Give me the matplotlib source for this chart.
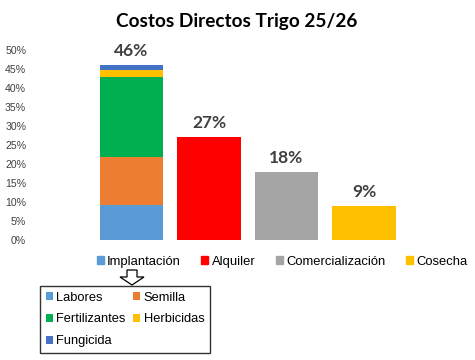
import matplotlib
matplotlib.use("Agg")
import matplotlib.pyplot as plt
import matplotlib.patches as mpatches
from matplotlib.ticker import PercentFormatter

# =========================
# DATA
# =========================
categories = ["Implantación", "Alquiler", "Comercialización", "Cosecha"]
cat_colors = ["#5B9BD5", "#FF0000", "#A5A5A5", "#FFC000"]

impl_items = ["Labores", "Semilla", "Fertilizantes", "Herbicidas", "Fungicida"]
impl_values = [0.090, 0.128, 0.211, 0.019, 0.013]
impl_colors = ["#5B9BD5", "#ED7D31", "#00B050", "#FFC000", "#4472C4"]

other_values = [0.270, 0.178, 0.088]   # Alquiler, Comercialización, Cosecha

y_ticks = [0, 0.05, 0.10, 0.15, 0.20, 0.25, 0.30, 0.35, 0.40, 0.45, 0.50]

# =========================
# FIGURE
# =========================
W, H = 475, 360
fig = plt.figure(figsize=(W / 100, H / 100), dpi=100)
fig.patch.set_facecolor("white")

def px(x0, y0, x1, y1):
    # pixel box (top-left origin) -> figure fraction rect
    return [x0 / W, 1 - y1 / H, (x1 - x0) / W, (y1 - y0) / H]

ax = fig.add_axes(px(31, 50.5, 440, 239.5))

bar_width = 0.82
# stacked Implantación bar
bottom = 0.0
impl_handles = []
for name, val, col in zip(impl_items, impl_values, impl_colors):
    b = ax.bar(0, val, bottom=bottom, width=bar_width, color=col, label=name)
    impl_handles.append(b)
    bottom += val

# remaining bars
for i, (val, col) in enumerate(zip(other_values, cat_colors[1:]), start=1):
    ax.bar(i, val, width=bar_width, color=col)

totals = [sum(impl_values)] + other_values
for i, tot in enumerate(totals):
    ax.annotate(f"{tot * 100:.0f}%", (i, tot), xytext=(0, 10.5),
                textcoords="offset points", ha="center", va="center",
                fontsize=12.5, fontweight="bold", color="#404040", family="Lato")

x_left = (31 - 131.5) / 77.5
x_right = (440 - 131.5) / 77.5
ax.set_xlim(x_left, x_right)
ax.set_ylim(0, 0.5)
ax.set_yticks(y_ticks)
ax.yaxis.set_major_formatter(PercentFormatter(1.0, decimals=0))
ax.set_xticks([])
ax.tick_params(axis="y", length=0, pad=3.5, labelsize=7.6, labelcolor="#404040")
for lab in ax.get_yticklabels():
    lab.set_family("Liberation Sans")
for s in ax.spines.values():
    s.set_visible(False)

fig.text(237 / W, 1 - 21 / H, "Costos Directos Trigo 25/26", ha="center", va="center",
         fontsize=13.7, fontweight="bold", family="Lato", color="black")

# top legend (categories)
cat_handles = [mpatches.Patch(color=c) for c in cat_colors]
fig.legend(cat_handles, categories, loc="center", ncol=4,
           bbox_to_anchor=(282 / W, 1 - 262 / H), frameon=False,
           prop={"family": "Liberation Sans", "size": 9.4},
           handlelength=0.55, handleheight=0.55, handletextpad=0.25,
           columnspacing=1.55, borderpad=0, borderaxespad=0)

# bottom legend (Implantación detail)
order = [0, 2, 4, 1, 3]
leg2 = fig.legend([impl_handles[i] for i in order], [impl_items[i] for i in order],
                  loc="upper left", ncol=2, bbox_to_anchor=(40 / W, 1 - 286 / H),
                  frameon=True, fancybox=False, edgecolor="black",
                  prop={"family": "Liberation Sans", "size": 9.3},
                  handlelength=0.55, handleheight=0.55, handletextpad=0.25,
                  columnspacing=0.6, labelspacing=0.75, borderpad=0.45,
                  borderaxespad=0)
leg2.get_frame().set_linewidth(1.0)

# outline arrow pointing from Implantación to its breakdown
arrow_pts = [(127, 270), (137, 270), (137, 277), (144, 277), (132, 285),
             (120, 277), (127, 277)]
arrow = mpatches.Polygon([(x / W, 1 - y / H) for x, y in arrow_pts], closed=True,
                         facecolor="white", edgecolor="black", linewidth=0.9,
                         transform=fig.transFigure)
fig.patches.append(arrow)

fig.savefig("out.png", dpi=100)
